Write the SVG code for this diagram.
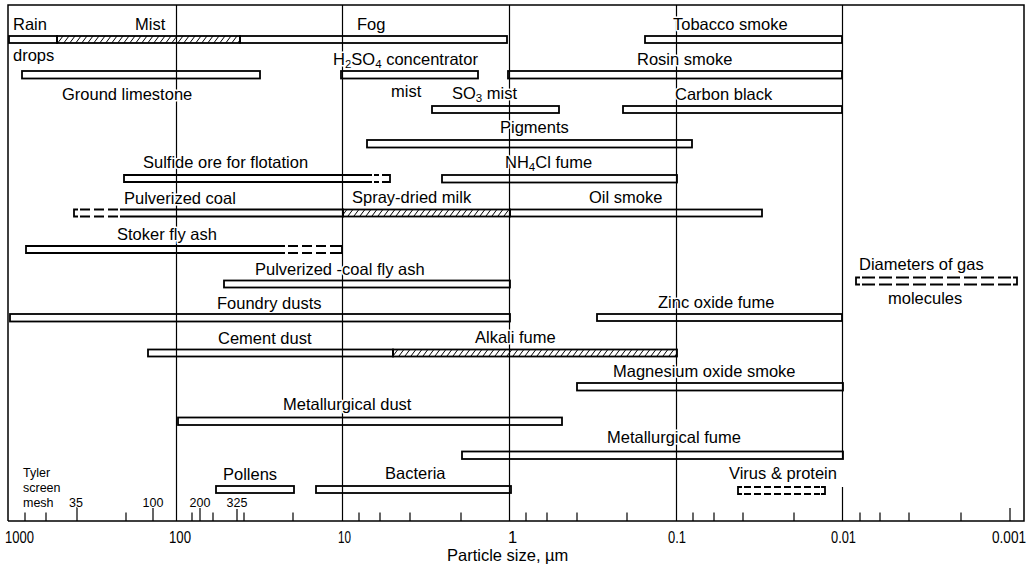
<svg xmlns="http://www.w3.org/2000/svg" width="1034" height="569" viewBox="0 0 1034 569">
<defs>
<pattern id="hatch" patternUnits="userSpaceOnUse" width="6" height="8">
<path d="M0 8 L6 0 M-1.5 2 L1.5 -2 M4.5 10 L7.5 6" stroke="#000" stroke-width="1"/>
</pattern>
<style>
.bar{fill:none;stroke:#000;stroke-width:1.8}
.hat{fill:url(#hatch);stroke:#000;stroke-width:1.8}
.dash{fill:none;stroke:#000;stroke-width:1.8;stroke-dasharray:10 4}
.dash2{fill:none;stroke:#000;stroke-width:1.8;stroke-dasharray:7 3}
.grid{fill:none;stroke:#000;stroke-width:1.2}
.frame{fill:none;stroke:#000;stroke-width:1.5}
.lbl{font-family:"Liberation Sans",Arial,sans-serif;font-size:16.5px;fill:#000;stroke:#fff;stroke-width:3;paint-order:stroke;stroke-linejoin:round}
.sub{font-size:11.5px}
.ax{font-family:"Liberation Sans",Arial,sans-serif;font-size:16.5px;fill:#000}
.sm{font-family:"Liberation Sans",Arial,sans-serif;font-size:12.5px;fill:#000;stroke:#fff;stroke-width:2;paint-order:stroke}
</style>
</defs>
<rect width="1034" height="569" fill="#fff"/>

<g id="axes">
<path class="frame" d="M8 521 V5 H1024 V521 H8"/>
<path class="grid" d="M176.5 5 V521 M342.5 5 V521 M509.5 5 V521 M676.5 5 V521 M842.5 5 V459 M842.5 487 V521 M1010 508 V521"/>
<path class="grid" d="M25 521 v-8.5 M46 521 v-8.5 M126 521 v-8.5 M192 521 v-8.5 M213 521 v-8.5 M244 521 v-8.5 M293 521 v-8.5 M359 521 v-8.5 M380 521 v-8.5 M410 521 v-8.5 M461 521 v-8.5 M526 521 v-8.5 M547 521 v-8.5 M577 521 v-8.5 M627 521 v-8.5 M693 521 v-8.5 M714 521 v-8.5 M743 521 v-8.5 M794 521 v-8.5 M860 521 v-8.5 M880 521 v-8.5 M909 521 v-8.5 M961 521 v-8.5"/>
<path class="grid" d="M77 521 v-14 M153 521 v-14 M200 521 v-14 M237 521 v-12"/>
<text class="ax" x="5" y="543" textLength="29" lengthAdjust="spacingAndGlyphs">1000</text>
<text class="ax" x="169" y="543" textLength="22" lengthAdjust="spacingAndGlyphs">100</text>
<text class="ax" x="338" y="543" textLength="13" lengthAdjust="spacingAndGlyphs">10</text>
<text class="ax" x="508" y="543">1</text>
<text class="ax" x="668" y="543" textLength="18" lengthAdjust="spacingAndGlyphs">0.1</text>
<text class="ax" x="831" y="543" textLength="25" lengthAdjust="spacingAndGlyphs">0.01</text>
<text class="ax" x="992" y="543" textLength="34" lengthAdjust="spacingAndGlyphs">0.001</text>
<text class="ax" x="447" y="561">Particle size, µm</text>
<text class="sm" x="23" y="477">Tyler</text>
<text class="sm" x="23" y="492">screen</text>
<text class="sm" x="23" y="507">mesh</text>
<text class="sm" x="76" y="507" text-anchor="middle">35</text>
<text class="sm" x="153" y="507" text-anchor="middle">100</text>
<text class="sm" x="200" y="507" text-anchor="middle">200</text>
<text class="sm" x="237" y="507" text-anchor="middle">325</text>
</g>

<g id="connectors"></g>

<g id="rain-drops">
<text class="lbl" x="13" y="29.5">Rain</text>
<text class="lbl" x="13" y="61">drops</text>
<rect class="bar" x="9" y="36" width="48" height="7"/>
</g>
<g id="mist">
<text class="lbl" x="135" y="29.5">Mist</text>
<rect class="hat" x="57" y="36" width="183" height="7"/>
</g>
<g id="fog">
<text class="lbl" x="357" y="29.5">Fog</text>
<rect class="bar" x="240" y="36" width="267" height="7"/>
</g>
<g id="tobacco-smoke">
<text class="lbl" x="673" y="29.5">Tobacco smoke</text>
<rect class="bar" x="645" y="36" width="197" height="7"/>
</g>
<g id="h2so4-mist">
<text class="lbl" x="333" y="65">H<tspan class="sub" dy="3">2</tspan><tspan dy="-3">SO</tspan><tspan class="sub" dy="3">4</tspan><tspan dy="-3"> concentrator</tspan></text>
<text class="lbl" x="391" y="97">mist</text>
<rect class="bar" x="341" y="71" width="137" height="7.5"/>
</g>
<g id="ground-limestone">
<text class="lbl" x="62" y="100">Ground  limestone</text>
<rect class="bar" x="22" y="71" width="238" height="7.5"/>
</g>
<g id="rosin-smoke">
<text class="lbl" x="637" y="65">Rosin smoke</text>
<rect class="bar" x="508" y="71" width="334" height="7.5"/>
</g>
<g id="so3-mist">
<text class="lbl" x="452" y="99">SO<tspan class="sub" dy="3">3</tspan><tspan dy="-3"> mist</tspan></text>
<rect class="bar" x="432" y="106" width="127" height="7"/>
</g>
<g id="carbon-black">
<text class="lbl" x="675" y="100">Carbon black</text>
<rect class="bar" x="623" y="106" width="219" height="7"/>
</g>
<g id="pigments">
<text class="lbl" x="500" y="133">Pigments</text>
<rect class="bar" x="367" y="140" width="325" height="7.5"/>
</g>
<g id="sulfide-ore">
<text class="lbl" x="143" y="168">Sulfide ore for flotation</text>
<path class="bar" d="M372 175 H124 V182 H372"/>
<path class="dash2" d="M374 175 H386 M374 182 H386" style="stroke-dasharray:5 3"/>
<path class="bar" d="M386 175 H390 V182 H386"/>
</g>
<g id="nh4cl-fume">
<text class="lbl" x="505" y="168">NH<tspan class="sub" dy="3">4</tspan><tspan dy="-3">Cl fume</tspan></text>
<rect class="bar" x="442" y="175" width="235" height="7.5"/>
</g>
<g id="pulverized-coal">
<text class="lbl" x="124" y="204">Pulverized coal</text>
<path class="bar" d="M78 209.5 H74 V216.5 H78"/>
<path class="dash" d="M80 209.5 H120 M80 216.5 H120"/>
<path class="bar" d="M120 209.5 H343 V216.5 H120"/>
</g>
<g id="spray-dried-milk">
<text class="lbl" x="352" y="203">Spray-dried milk</text>
<rect class="hat" x="343" y="209.5" width="167" height="7"/>
</g>
<g id="oil-smoke">
<text class="lbl" x="589" y="203">Oil smoke</text>
<rect class="bar" x="510" y="209.5" width="252" height="7"/>
</g>
<g id="stoker-fly-ash">
<text class="lbl" x="117" y="240">Stoker fly ash</text>
<path class="bar" d="M285 246 H26 V253 H285"/>
<path class="dash" d="M288 246 H338 M288 253 H338"/>
<path class="bar" d="M338 246 H342 V253 H338"/>
</g>
<g id="pulverized-coal-fly-ash">
<text class="lbl" x="255" y="275">Pulverized -coal fly ash</text>
<rect class="bar" x="224" y="280.5" width="286" height="7"/>
</g>
<g id="gas-molecules">
<text class="lbl" x="859" y="270">Diameters of gas</text>
<text class="lbl" x="888" y="304">molecules</text>
<path class="bar" d="M860 277.5 H856 V284.5 H860 M1013 277.5 H1017 V284.5 H1013"/>
<path class="dash" d="M862 277.5 H1012 M862 284.5 H1012" style="stroke-dasharray:13 4"/>
</g>
<g id="foundry-dusts">
<text class="lbl" x="217" y="309">Foundry dusts</text>
<rect class="bar" x="10" y="314" width="500" height="7.5"/>
</g>
<g id="zinc-oxide-fume">
<text class="lbl" x="658" y="308">Zinc oxide fume</text>
<rect class="bar" x="597" y="314" width="245" height="7"/>
</g>
<g id="cement-dust">
<text class="lbl" x="218" y="344">Cement dust</text>
<rect class="bar" x="148" y="349.5" width="245" height="7"/>
</g>
<g id="alkali-fume">
<text class="lbl" x="475" y="343">Alkali fume</text>
<rect class="hat" x="393" y="349.5" width="284" height="7"/>
</g>
<g id="magnesium-oxide-smoke">
<text class="lbl" x="613" y="377">Magnesium oxide smoke</text>
<rect class="bar" x="577" y="383" width="266" height="7.5"/>
</g>
<g id="metallurgical-dust">
<text class="lbl" x="283" y="410">Metallurgical dust</text>
<rect class="bar" x="178" y="417.5" width="384" height="7.5"/>
</g>
<g id="metallurgical-fume">
<text class="lbl" x="607" y="443">Metallurgical fume</text>
<rect class="bar" x="462" y="451.5" width="381" height="7.5"/>
</g>
<g id="pollens">
<text class="lbl" x="223" y="480">Pollens</text>
<rect class="bar" x="216" y="486" width="78" height="7"/>
</g>
<g id="bacteria">
<text class="lbl" x="385" y="479">Bacteria</text>
<rect class="bar" x="316" y="486" width="195" height="7"/>
</g>
<g id="virus-protein">
<text class="lbl" x="729" y="479">Virus &amp; protein</text>
<path class="bar" d="M742 487 H738 V494 H742 M821 487 H825 V494 H821"/>
<path class="dash2" d="M744 487 H820 M744 494 H820"/>
</g>
</svg>
